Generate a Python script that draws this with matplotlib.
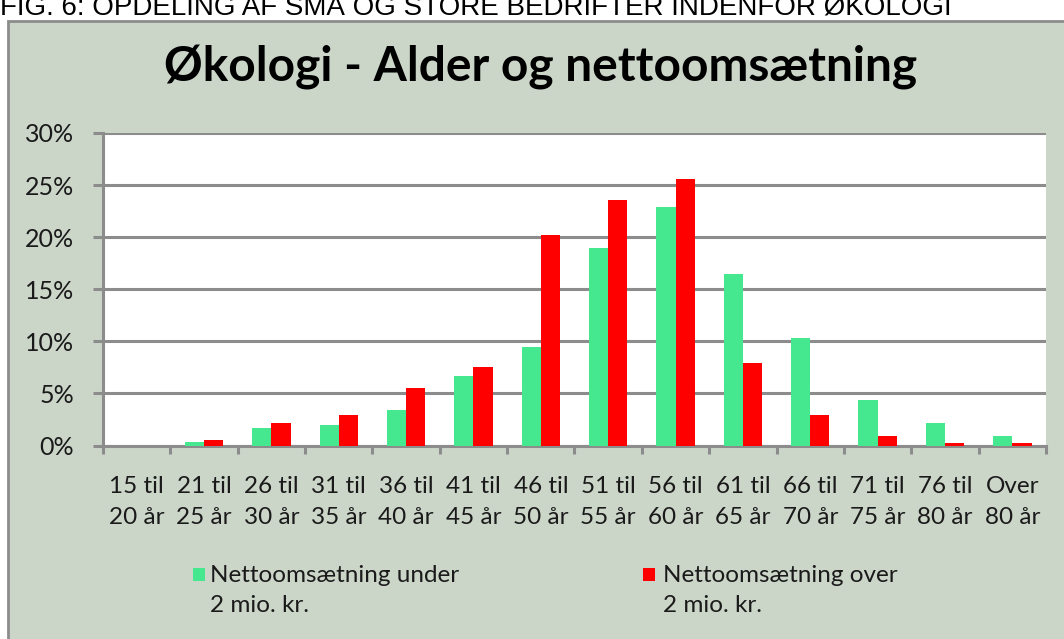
import matplotlib
matplotlib.use('Agg')
import matplotlib.pyplot as plt
from matplotlib.patches import Rectangle
import numpy as np

plt.rcParams['font.family'] = ['Lato', 'DejaVu Sans']

#Data (percent)
categories = ["15 til\n20 år", "21 til\n25 år", "26 til\n30 år", "31 til\n35 år",
              "36 til\n40 år", "41 til\n45 år", "46 til\n50 år", "51 til\n55 år",
              "56 til\n60 år", "61 til\n65 år", "66 til\n70 år", "71 til\n75 år",
              "76 til\n80 år", "Over\n80 år"]
under_2mio = [0.0, 0.35, 1.7, 2.0, 3.4, 6.7, 9.5, 19.0, 22.9, 16.5, 10.3, 4.4, 2.2, 0.9]
over_2mio = [0.0, 0.5, 2.2, 2.9, 5.5, 7.5, 20.2, 23.6, 25.6, 7.9, 2.9, 0.9, 0.2, 0.2]
yticks = [0, 5, 10, 15, 20, 25, 30]
legend_labels = [("Nettoomsætning under", "2 mio. kr."), ("Nettoomsætning over", "2 mio. kr.")]

green = '#45E88F'
red = '#FF0000'
panel = '#CBD6C9'
gray = '#8C8C8C'
txt = '#1a1a1a'
W, H = 1064, 639

fig = plt.figure(figsize=(W / 100, H / 100), dpi=100, facecolor='white')

#Chart panel (cut off on the right and bottom like the screenshot)
fig.patches.append(Rectangle((8 / W, -0.1), 1.2, 1.1 - 21 / H, transform=fig.transFigure,
                             facecolor=panel, edgecolor=gray, linewidth=2, zorder=-10))

#Caption above the chart, mostly cropped away at the top
fig.text(0.0, 1 - 16 / H, "FIG. 6: OPDELING AF SMÅ OG STORE BEDRIFTER INDENFOR ØKOLOGI",
         family=['Liberation Sans', 'DejaVu Sans'], fontsize=20, va='baseline', ha='left')

fig.text(541 / W, 1 - 82 / H, "Økologi - Alder og nettoomsætning", fontsize=34.5,
         fontweight='bold', ha='center', va='baseline', color='black')

left, right = 103 / W, 1046 / W
bottom, top = 1 - 445.5 / H, 1 - 133 / H
ax = fig.add_axes([left, bottom, right - left, top - bottom])
ax.set_facecolor('white')

x = np.arange(len(categories))
w = 1 / 3.5
ax.bar(x - w / 2, under_2mio, width=w, color=green, zorder=3)
ax.bar(x + w / 2, over_2mio, width=w, color=red, zorder=3)

ax.set_xlim(-0.5, len(categories) - 0.5)
ax.set_ylim(0, 30)
ax.set_yticks(yticks)
ax.set_yticklabels([f"{v}%" for v in yticks])
ax.yaxis.grid(True, color=gray, linewidth=2.2)
ax.set_axisbelow(True)

for s in ['top', 'right']:
    ax.spines[s].set_visible(False)
for s in ['left', 'bottom']:
    ax.spines[s].set_color(gray)
    ax.spines[s].set_linewidth(2.2)

ax.set_xticks(np.arange(-0.5, len(categories), 1))
ax.set_xticklabels([])
ax.set_xticks(x, minor=True)
ax.set_xticklabels(categories, minor=True, linespacing=1.6)
ax.tick_params(axis='x', which='major', length=6, width=2.2, color=gray)
ax.tick_params(axis='x', which='minor', length=0, pad=22, labelsize=17.5, labelcolor=txt)
ax.tick_params(axis='y', length=7, width=2.2, color=gray, pad=14, labelsize=18,
               labelcolor=txt)

#Legend: square marker level with the first line of each two-line label
for (x0, tx), (line1, line2), col in zip([(193, 210), (643, 663)], legend_labels, [green, red]):
    fig.patches.append(Rectangle((x0 / W, 1 - 581 / H), 12 / W, 13 / H,
                                 transform=fig.transFigure, facecolor=col, edgecolor='none'))
    fig.text(tx / W, 1 - 575 / H, line1, fontsize=17.5, va='center', ha='left', color=txt)
    fig.text(tx / W, 1 - 606 / H, line2, fontsize=17.5, va='center', ha='left', color=txt)

plt.savefig('out.png', dpi=100, facecolor=fig.get_facecolor())
